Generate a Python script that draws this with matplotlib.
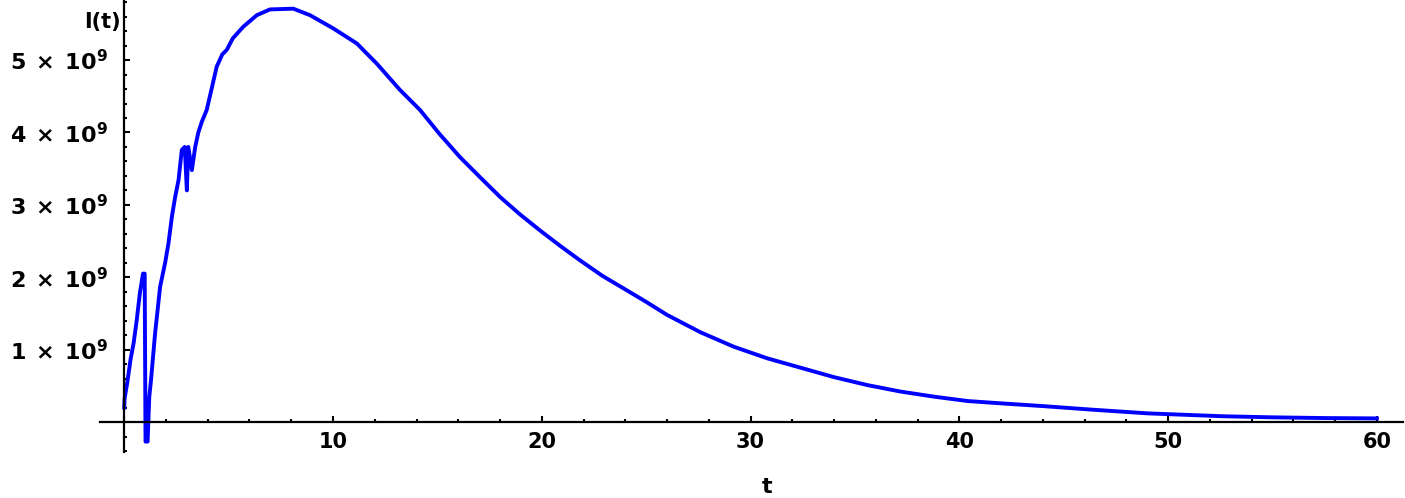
import numpy as np
import matplotlib
matplotlib.use("Agg")
import matplotlib.pyplot as plt
from matplotlib.ticker import MultipleLocator, FuncFormatter

# --- Data (I in units of 1e9) ---
t_vals = [0.0, 0.02, 0.15, 0.3, 0.45, 0.6, 0.75, 0.9, 0.98, 1.02, 1.12, 1.2, 1.28,
          1.48, 1.72, 1.96, 2.12, 2.28, 2.44, 2.6, 2.76, 2.9, 3.0, 3.07, 3.24, 3.4,
          3.55, 3.72, 3.95, 4.2, 4.43, 4.7, 4.91, 5.2, 5.7, 6.35, 6.98, 8.1,
          8.9, 10.0, 11.14, 12.1, 13.2, 14.17, 15.1, 16.08, 17.05, 18.0, 18.95,
          19.9, 20.85, 21.8, 22.9, 24.07, 25.0, 26.0, 27.6, 29.2, 30.8, 32.4, 34.0,
          35.6, 37.2, 38.8, 40.4, 41.9, 44.0, 46.4, 49.0, 52.6, 55.0, 57.5, 60.0]
i_vals = [0.20, 0.33, 0.55, 0.86, 1.09, 1.41, 1.78, 2.05, 2.05, -0.27, -0.27, 0.35, 0.57,
          1.23, 1.87, 2.20, 2.47, 2.83, 3.11, 3.34, 3.76, 3.80, 3.20, 3.80, 3.48, 3.80,
          4.00, 4.15, 4.31, 4.62, 4.91, 5.08, 5.14, 5.30, 5.46, 5.62, 5.70, 5.71,
          5.62, 5.44, 5.23, 4.95, 4.59, 4.31, 3.98, 3.66, 3.38, 3.11, 2.87,
          2.65, 2.44, 2.24, 2.02, 1.82, 1.66, 1.48, 1.24, 1.04, 0.88, 0.75, 0.62,
          0.51, 0.42, 0.35, 0.29, 0.26, 0.22, 0.17, 0.12, 0.08, 0.065, 0.055, 0.05]
y_major = [1, 2, 3, 4, 5]

t = np.array(t_vals)
I = np.array(i_vals) * 1e9

W, H = 1405, 498
fig = plt.figure(figsize=(W / 100, H / 100), dpi=100)
ax = fig.add_axes([100 / W, 46 / H, 1303 / W, 452 / H])

ax.plot(t, I, color='#0000FF', linewidth=2.8)

ax.set_xlim(-1.16, 61.25)
ax.set_ylim(-0.414e9, 5.83e9)

# axes through the origin, Mathematica style
for s in ['top', 'right']:
    ax.spines[s].set_visible(False)
ax.spines['left'].set_position(('data', 0))
ax.spines['bottom'].set_position(('data', 0))
for s in ['left', 'bottom']:
    ax.spines[s].set_linewidth(1.6)

ax.xaxis.set_major_locator(MultipleLocator(10))
ax.xaxis.set_minor_locator(MultipleLocator(2))
ax.set_yticks([v * 1e9 for v in y_major])
ax.yaxis.set_minor_locator(MultipleLocator(0.2e9))

ax.xaxis.set_major_formatter(FuncFormatter(lambda v, p: '' if abs(v) < 1e-9 else f'{v:.0f}'))
ax.yaxis.set_major_formatter(FuncFormatter(
    lambda v, p: r'$\mathbf{%d\;\times\;10^{9}}$' % round(v / 1e9)))

ax.tick_params(which='both', direction='in', width=1.5, color='black')
ax.tick_params(which='major', length=4)
ax.tick_params(which='minor', length=2.5)
ax.tick_params(axis='x', which='major', pad=7, labelsize=15)
ax.tick_params(axis='y', which='major', pad=12, labelsize=16)
for lab in ax.get_xticklabels():
    lab.set_fontweight('bold')

fig.text(121 / W, 1 - 22 / H, 'I(t)', ha='right', va='center',
         fontsize=15, fontweight='bold')
fig.text(767 / W, 1 - 487 / H, 't', ha='center', va='center',
         fontsize=16, fontweight='bold')

fig.savefig('out.png', dpi=100)
